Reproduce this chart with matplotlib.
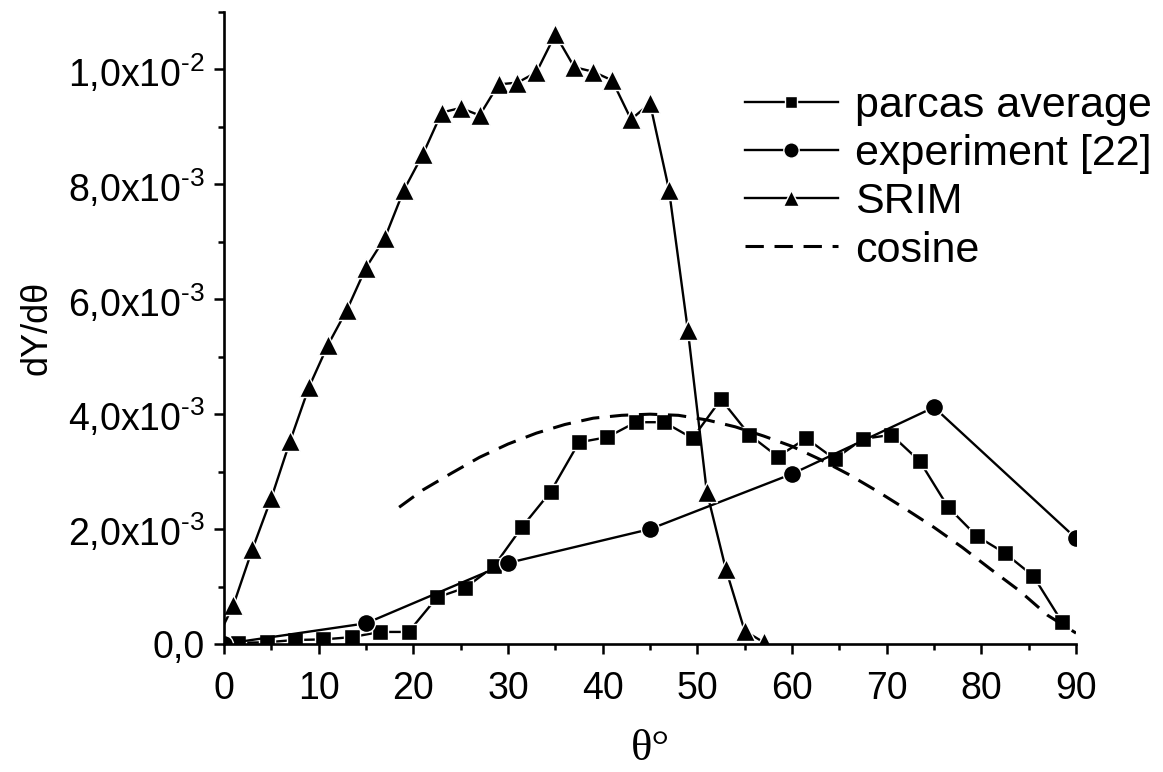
import numpy as np
import matplotlib
matplotlib.use('Agg')
import matplotlib.pyplot as plt
from matplotlib.ticker import FixedLocator, MultipleLocator

plt.rcParams['font.family'] = ['Liberation Sans', 'DejaVu Sans']
plt.rcParams['mathtext.fontset'] = 'custom'
plt.rcParams['mathtext.rm'] = 'Liberation Sans'
plt.rcParams['mathtext.default'] = 'regular'
plt.rcParams['axes.unicode_minus'] = False

# values, y in units of 1e-3
parcas_x = [1.5, 4.5, 7.5, 10.5, 13.5, 16.5, 19.5, 22.5, 25.5, 28.5,
            31.5, 34.5, 37.5, 40.5, 43.5, 46.5, 49.5, 52.5, 55.5, 58.5,
            61.5, 64.5, 67.5, 70.5, 73.5, 76.5, 79.5, 82.5, 85.5, 88.5]
parcas_y = [0.02, 0.03, 0.07, 0.08, 0.12, 0.21, 0.21, 0.81, 0.98, 1.35,
            2.04, 2.65, 3.51, 3.60, 3.86, 3.86, 3.58, 4.26, 3.64, 3.26,
            3.58, 3.22, 3.57, 3.64, 3.18, 2.38, 1.88, 1.58, 1.18, 0.39]

exp_x = [0, 15, 30, 45, 60, 75, 90]
exp_y = [0.0, 0.36, 1.41, 2.00, 2.96, 4.12, 1.84]

srim_x = [-1, 1, 3, 5, 7, 9, 11, 13, 15, 17, 19, 21, 23, 25, 27, 29,
          31, 33, 35, 37, 39, 41, 43, 45, 47, 49, 51, 53, 55, 57]
srim_y = [0.0, 0.68, 1.65, 2.54, 3.54, 4.48, 5.21, 5.82, 6.55, 7.07, 7.90,
          8.52, 9.25, 9.33, 9.20, 9.74, 9.77, 9.95, 10.61, 10.04, 9.96,
          9.81, 9.13, 9.41, 7.91, 5.46, 2.65, 1.31, 0.23, 0.03]

cos_x = [18.5, 21, 24, 27, 30, 33, 36, 39, 42, 45, 48, 51, 54, 57, 60,
         63, 66, 69, 72, 75, 78, 81, 84, 87, 90]
cos_y = [2.38, 2.68, 2.97, 3.25, 3.48, 3.67, 3.82, 3.93, 3.98, 4.00, 3.98,
         3.90, 3.78, 3.62, 3.44, 3.21, 2.95, 2.66, 2.35, 2.03, 1.68, 1.30,
         0.93, 0.50, 0.19]

yticks = [0, 2e-3, 4e-3, 6e-3, 8e-3, 1e-2]
ytick_labels = ['0,0', r'2,0x10$^{\text{-3}}$', r'4,0x10$^{\text{-3}}$',
                r'6,0x10$^{\text{-3}}$', r'8,0x10$^{\text{-3}}$',
                r'1,0x10$^{\text{-2}}$']
xticks = [0, 10, 20, 30, 40, 50, 60, 70, 80, 90]

fig = plt.figure(figsize=(11.63, 7.72), dpi=100)
ax = fig.add_axes([0.1926, 0.1658, 0.7326, 0.8187])

scale = 1e-3
lw = 1.7
ax.plot(parcas_x, np.array(parcas_y) * scale, color='black', lw=lw,
        marker='s', ms=11, mec='white', mew=1.0, label='parcas average')
ax.plot(exp_x, np.array(exp_y) * scale, color='black', lw=lw,
        marker='o', ms=13, mec='white', mew=1.0, label='experiment [22]')
ax.plot(srim_x, np.array(srim_y) * scale, color='black', lw=lw,
        marker='^', ms=14, mec='white', mew=1.0, label='SRIM')
ax.plot(cos_x, np.array(cos_y) * scale, color='black', lw=2.2,
        linestyle=(0, (6, 3.5)), label='cosine')

ax.set_xlim(0, 90)
ax.set_ylim(0, 1.1e-2)
ax.xaxis.set_major_locator(FixedLocator(xticks))
ax.xaxis.set_minor_locator(MultipleLocator(5))
ax.yaxis.set_major_locator(FixedLocator(yticks))
ax.yaxis.set_minor_locator(MultipleLocator(1e-3))
ax.set_yticklabels(ytick_labels)

for s in ['top', 'right']:
    ax.spines[s].set_visible(False)
for s in ['left', 'bottom']:
    ax.spines[s].set_linewidth(1.9)

ax.tick_params(which='major', direction='out', length=7.5, width=1.8,
               labelsize=27)
ax.tick_params(axis='x', which='major', pad=12)
ax.tick_params(axis='y', which='major', pad=6)
ax.tick_params(which='minor', direction='out', length=4, width=1.8)

ax.set_ylabel('dY/dθ', fontsize=26, labelpad=10)
ax.set_xlabel('θ°', fontsize=32, family='Liberation Serif', labelpad=16)

ax.legend(loc='upper left', bbox_to_anchor=(745 / 1163, 1 - 86 / 772),
          bbox_transform=fig.transFigure, frameon=False, fontsize=31,
          numpoints=1, handlelength=2.15, handletextpad=0.4,
          labelspacing=0.19, borderpad=0, borderaxespad=0, markerscale=0.85)

fig.savefig('out.png', dpi=100)
